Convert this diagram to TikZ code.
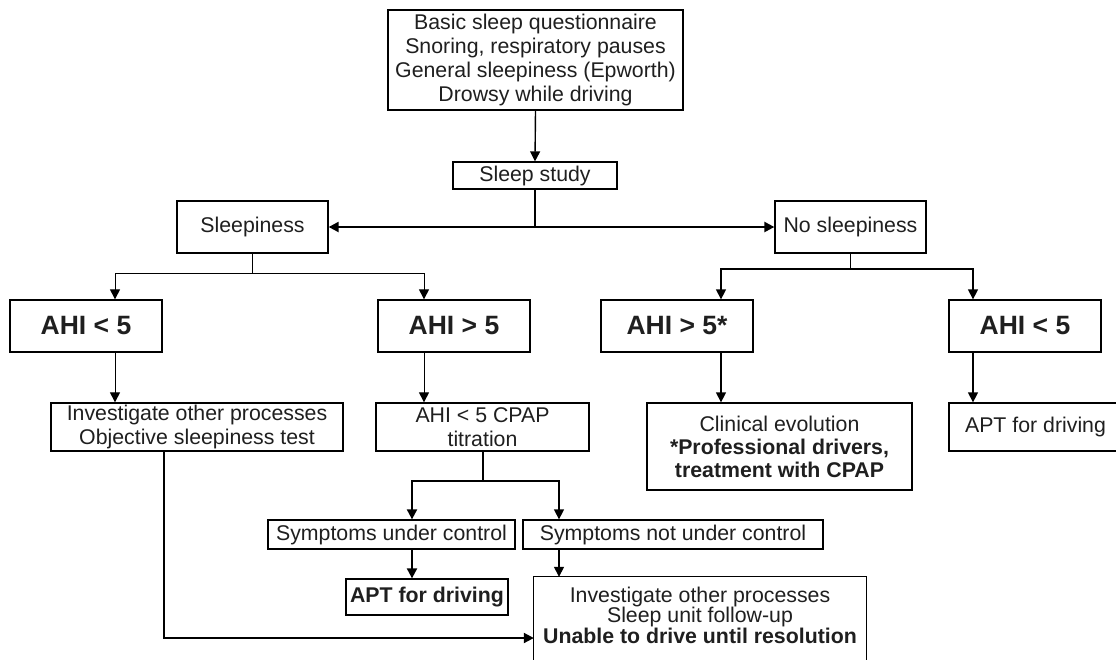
\documentclass[tikz,border=0pt]{standalone}
\usepackage{fontspec}
\setmainfont{Liberation Sans}
\usetikzlibrary{arrows.meta}
\begin{document}
\begin{tikzpicture}[x=1pt,y=-1pt,
  box/.style={draw, line width=1.3pt, inner sep=0pt, align=center,
    font=\fontsize{21.3}{24}\selectfont, text=black!88},
  ahi/.style={box, font=\fontsize{26.5}{30}\selectfont\bfseries},
  boxline/.style={line width=1.3pt},
  tip/.style={-{Triangle[length=10pt,width=10pt]}},
  thinc/.style={line width=1pt},
  medc/.style={line width=1.4pt},
  thickc/.style={line width=2pt}]
\useasboundingbox (0,0) rectangle (1116,659);
\clip (0,0) rectangle (1116,659);
\fill[white] (0,0) rectangle (1116,659);
% nodes
\node[box, minimum width=295pt, minimum height=100pt] (top) at (535.5,60)
  {Basic sleep questionnaire\\Snoring, respiratory pauses\\General sleepiness (Epworth)\\Drowsy while driving};
\node[box, minimum width=164pt, minimum height=27pt] (sleep) at (535,175.5) {Sleep study};
\node[box, minimum width=151pt, minimum height=52pt] (sleepi) at (252.5,227) {Sleepiness};
\node[box, minimum width=151pt, minimum height=52pt] (nosl) at (850.5,227) {No sleepiness};
\node[ahi, minimum width=152pt, minimum height=52pt] (ahiA) at (86,326) {AHI < 5};
\node[ahi, minimum width=152pt, minimum height=52pt] (ahiB) at (454,326) {AHI > 5};
\node[ahi, minimum width=152pt, minimum height=52pt] (ahiC) at (677,326) {AHI > 5*};
\node[ahi, minimum width=152pt, minimum height=52pt] (ahiD) at (1025,326) {AHI < 5};
\node[box, minimum width=292pt, minimum height=48pt] (inv) at (197,427)
  {Investigate other processes\\Objective sleepiness test};
\node[box, minimum width=213pt, minimum height=48pt] (cpap) at (482.5,427)
  {AHI < 5 CPAP\\titration};
\node[box, minimum width=265pt, minimum height=87pt, font=\fontsize{21.3}{23}\selectfont] (clin) at (779.5,446.5)
  {Clinical evolution\\\textbf{*Professional drivers,}\\\textbf{treatment with CPAP}};
\node[box, minimum width=173pt, minimum height=48pt] (aptR) at (1035.5,427) {APT for driving};
\node[box, minimum width=247pt, minimum height=29pt] (symU) at (391.5,534.5) {Symptoms under control};
\node[box, minimum width=300pt, minimum height=29pt] (symN) at (673,534.5) {Symptoms not under control};
\node[box, minimum width=162pt, minimum height=36pt, font=\fontsize{21.3}{24}\selectfont\bfseries] (aptB) at (427,597) {APT for driving};
\node[inner sep=0pt, align=center, minimum width=332pt, minimum height=76pt,
  font=\fontsize{21.3}{20.5}\selectfont, text=black!88] (bot) at (700,615)
  {Investigate other processes\\Sleep unit follow-up\\\textbf{Unable to drive until resolution}};
\draw[boxline] ([yshift=-30pt]bot.south west) -- (bot.north west) -- (bot.north east) -- ([yshift=-30pt]bot.south east);
% junction coordinates
\coordinate (jA) at (115,273);
\coordinate (jB) at (424,273);
\coordinate (jC) at (721,269);
\coordinate (jD) at (973,269);
\coordinate (jE) at (412,481);
\coordinate (jF) at (559,481);
\coordinate (jG) at (164,638);
% connectors
\draw[medc, tip] (top.south) -- (sleep.north);
\draw[medc] (sleep.south) -- (sleep.south |- sleepi.east);
\draw[line width=2.2pt, {Triangle[length=10pt,width=10pt]}-{Triangle[length=10pt,width=10pt]}] (sleepi.east) -- (nosl.west);
\draw[thinc, tip] (sleepi.south) |- (jA) -- (jA |- ahiA.north);
\draw[thinc, tip] (sleepi.south) |- (jB) -- (jB |- ahiB.north);
\draw[thinc, tip] (jA |- ahiA.south) -- (jA |- inv.north);
\draw[thinc, tip] (jB |- ahiB.south) -- (jB |- cpap.north);
\draw[medc, tip] (nosl.south) |- (jC) -- (jC |- ahiC.north);
\draw[medc, tip] (nosl.south) |- (jD) -- (jD |- ahiD.north);
\draw[medc, tip] (jC |- ahiC.south) -- (jC |- clin.north);
\draw[medc, tip] (jD |- ahiD.south) -- (jD |- aptR.north);
\draw[thickc, tip] (cpap.south) |- (jE) -- (jE |- symU.north);
\draw[medc, tip] (cpap.south) |- (jF) -- (jF |- symN.north);
\draw[thickc, tip] (jE |- symU.south) -- (jE |- aptB.north);
\draw[medc, tip] (jF |- symN.south) -- (jF |- bot.north);
\draw[thickc, tip] (jG |- inv.south) |- (bot.west |- jG);
\end{tikzpicture}
\end{document}
